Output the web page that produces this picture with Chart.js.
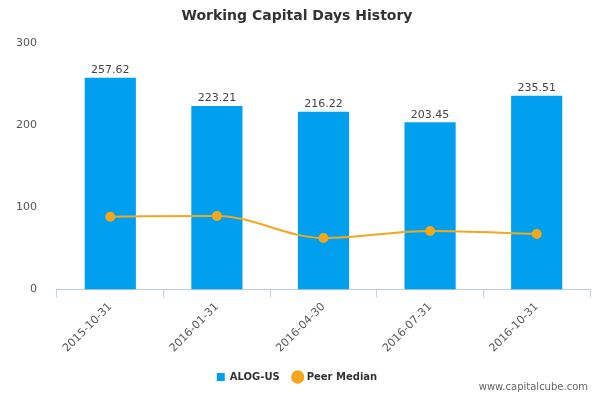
<!DOCTYPE html>
<html>
<head>
<meta charset="utf-8">
<script src="https://cdn.jsdelivr.net/npm/chart.js@4/dist/chart.umd.min.js"></script>
<style>
  html, body { margin: 0; padding: 0; background: #fff; }
  #wrap { position: relative; width: 600px; height: 400px; }
  #credit { position: absolute; right: 12px; bottom: 8px; font: 10px "DejaVu Sans", sans-serif; color: #666; }
</style>
</head>
<body>
<div id="wrap">
  <canvas id="chart" width="600" height="400"></canvas>
  <div id="credit">www.capitalcube.com</div>
</div>
<script>
const categories = ['2015-10-31', '2016-01-31', '2016-04-30', '2016-07-31', '2016-10-31']
const companyDays = [257.62, 223.21, 216.22, 203.45, 235.51]
const peerMedian = [88.5, 89.5, 62.5, 71, 67.5]
const yTicks = [0, 100, 200, 300]

// numbers above the bars, placed from the bar elements themselves
const barLabels = {
  id: 'barLabels',
  afterDatasetsDraw(chart) {
    const { ctx } = chart
    const meta = chart.getDatasetMeta(1)
    ctx.save()
    ctx.font = '11px "DejaVu Sans", sans-serif'
    ctx.fillStyle = '#444'
    ctx.textAlign = 'center'
    ctx.textBaseline = 'bottom'
    meta.data.forEach((bar, i) => {
      ctx.fillText(companyDays[i].toFixed(2), bar.x, bar.y - 2)
    })
    ctx.restore()
  },
}

Chart.defaults.font.family = '"DejaVu Sans", sans-serif'

new Chart(document.getElementById('chart'), {
  data: {
    labels: categories,
    datasets: [
      {
        type: 'line', label: 'Peer Median', data: peerMedian,
        borderColor: '#F5A71C', backgroundColor: '#F5A71C', borderWidth: 2, pointStyle: 'circle',
        pointRadius: 4, pointHoverRadius: 4, tension: 0.4, cubicInterpolationMode: 'monotone', order: 0,
      },
      {
        type: 'bar', label: 'ALOG-US', data: companyDays, pointStyle: 'rect',
        backgroundColor: '#00A0EE', barPercentage: 0.48, categoryPercentage: 1, order: 1,
      },
    ],
  },
  options: {
    responsive: false,
    animation: false,
    layout: { padding: { top: 0, right: 10, left: 4, bottom: 8 } },
    plugins: {
      title: {
        display: true, text: 'Working Capital Days History', color: '#333',
        font: { size: 14, weight: 'bold' }, padding: { top: 8, bottom: 18 },
      },
      legend: {
        position: 'bottom', reverse: true,
        labels: {
          color: '#333', font: { size: 10, weight: 'bold' }, boxWidth: 8, boxHeight: 8,
          usePointStyle: true, padding: 14,
        },
      },
      tooltip: { enabled: false },
    },
    scales: {
      x: {
        grid: { display: true, drawOnChartArea: false, offset: true, color: '#C0D0E0', tickLength: 8 },
        border: { color: '#C0D0E0' },
        ticks: { color: '#555', font: { size: 11 }, maxRotation: 45, minRotation: 45 },
      },
      y: {
        min: 0, max: 300,
        afterBuildTicks: (axis) => { axis.ticks = yTicks.map((v) => ({ value: v })) },
        grid: { display: false },
        border: { display: false },
        ticks: { color: '#555', font: { size: 11 }, padding: 12 },
      },
    },
  },
  plugins: [barLabels],
})
</script>
</body>
</html>
